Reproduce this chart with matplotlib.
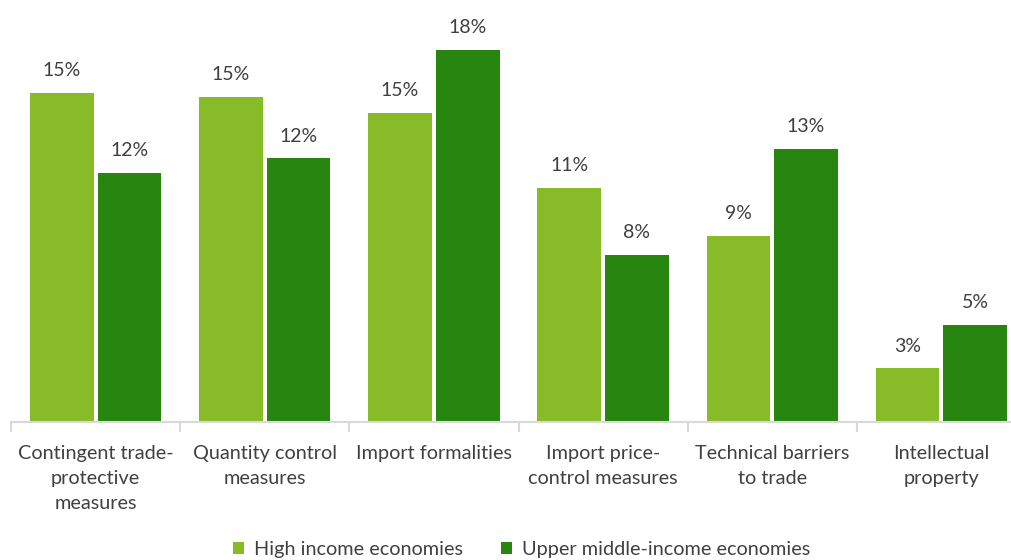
import matplotlib
matplotlib.use("Agg")
import matplotlib.pyplot as plt
import numpy as np

plt.rcParams["font.family"] = ["Lato", "DejaVu Sans"]

categories = [
    "Contingent trade-\nprotective\nmeasures",
    "Quantity control\nmeasures",
    "Import formalities",
    "Import price-\ncontrol measures",
    "Technical barriers\nto trade",
    "Intellectual\nproperty",
]
high_income = [15.49, 15.30, 14.56, 11.02, 8.76, 2.51]
upper_middle = [11.72, 12.42, 17.55, 7.86, 12.86, 4.56]
series_names = ["High income economies", "Upper middle-income economies"]

LIGHT = "#88bb28"
DARK = "#268610"
TXT = "#404040"

fig = plt.figure(figsize=(10.11, 5.6), dpi=100)
ax = fig.add_axes([11 / 1011, 1 - 421.7 / 560, 1015 / 1011, 18 * 21.2 / 560])

x = np.arange(len(categories))
w, off = 0.376, 0.2
b1 = ax.bar(x - off, high_income, w, color=LIGHT, label=series_names[0])
b2 = ax.bar(x + off, upper_middle, w, color=DARK, label=series_names[1])

for bars in (b1, b2):
    for r in bars:
        v = r.get_height()
        ax.annotate(f"{v:.0f}%", (r.get_x() + r.get_width() / 2, v),
                    xytext=(0, 10), textcoords="offset points",
                    ha="center", va="bottom", fontsize=14, color=TXT)

ax.set_xlim(-0.5, len(categories) - 0.5)
ax.set_ylim(0, 18)
ax.set_yticks([])
for s in ("top", "right", "left"):
    ax.spines[s].set_visible(False)
ax.spines["bottom"].set_color("#d9d9d9")
ax.spines["bottom"].set_linewidth(1.5)

ax.set_xticks(np.arange(-0.5, len(categories)), minor=False)
ax.set_xticklabels([])
ax.tick_params(axis="x", length=7, width=1.5, color="#d9d9d9")
for i, c in enumerate(categories):
    ax.text(i, -1.1, c, ha="center", va="top", fontsize=14.3, color=TXT,
            linespacing=1.58)

fig.legend(handles=[b1, b2], labels=series_names, loc="lower center",
           bbox_to_anchor=(0.516, -0.028), ncol=2, frameon=False,
           fontsize=14.3, handlelength=0.55, handleheight=0.55,
           handletextpad=0.5, columnspacing=1.9, labelcolor=TXT)

fig.savefig("out.png", dpi=100, facecolor="white")
